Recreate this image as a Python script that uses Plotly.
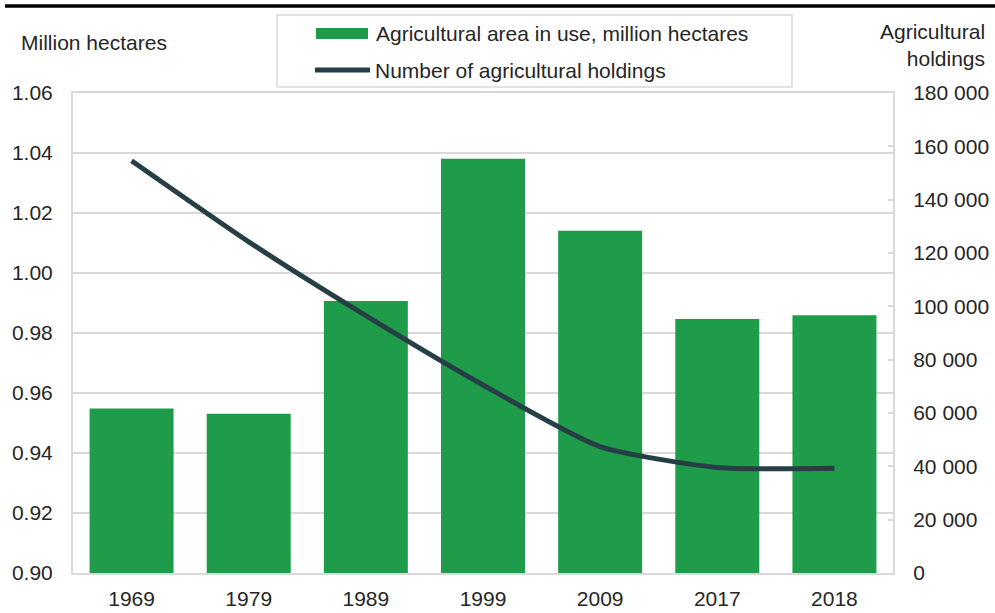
import plotly.graph_objects as go

years = ["1969", "1979", "1989", "1999", "2009", "2017", "2018"]
area_mha = [0.9548, 0.9531, 0.9907, 1.0381, 1.0141, 0.9847, 0.9859]
holdings = [154600, 124200, 96500, 70500, 47400, 39600, 39250]

AREA_NAME = "Agricultural area in use, million hectares"
HOLD_NAME = "Number of agricultural holdings"

GREEN = "#1e9c4a"
LINE = "#263f46"
GRID = "#d9d9d9"
TXT = "#262626"
FONT = "Liberation Sans, Arial, sans-serif"

# plot area in pixels: left 73, right 893, top 93, bottom 573
W, H = 995, 613
L, R, T, B = 73, 893, 93, 573


def px_x(x):
    return (x - L) / (R - L)


def px_y(y):
    return (B - y) / (B - T)


fig = go.Figure()
fig.add_trace(go.Bar(
    x=years, y=area_mha, name=AREA_NAME,
    marker=dict(color=GREEN, line=dict(width=0)), showlegend=False,
))
fig.add_trace(go.Scatter(
    x=years, y=holdings, name=HOLD_NAME, yaxis="y2",
    mode="lines", line=dict(color=LINE, width=5, shape="spline", smoothing=0.6),
    showlegend=False,
))

# legend box drawn by hand (wide swatches like the original)
shapes = [
    dict(type="line", xref="paper", yref="paper",
         x0=px_x(5), x1=px_x(995), y0=px_y(6), y1=px_y(6),
         line=dict(color="black", width=3.5)),
    dict(type="rect", xref="paper", yref="paper",
         x0=px_x(277), x1=px_x(792), y0=px_y(15), y1=px_y(87),
         line=dict(color=GRID, width=1.5)),
    dict(type="rect", xref="paper", yref="paper",
         x0=px_x(316), x1=px_x(368), y0=px_y(28), y1=px_y(39),
         fillcolor=GREEN, line=dict(width=0)),
    dict(type="line", xref="paper", yref="paper",
         x0=px_x(315), x1=px_x(370), y0=px_y(70), y1=px_y(70),
         line=dict(color=LINE, width=5)),
]

annotations = [
    dict(text=AREA_NAME, x=px_x(374), y=px_y(33)),
    dict(text=HOLD_NAME, x=px_x(373), y=px_y(70)),
    dict(text="Million hectares", x=px_x(19), y=px_y(42)),
    dict(text="Agricultural<br>holdings", x=px_x(987), y=px_y(45),
         xanchor="right", align="right"),
]
for a in annotations:
    a.setdefault("xanchor", "left")
    a.update(xref="paper", yref="paper", yanchor="middle", showarrow=False)

fig.update_layout(
    width=W, height=H,
    margin=dict(l=L, r=W - R, t=T, b=H - B),
    paper_bgcolor="white", plot_bgcolor="white",
    font=dict(family=FONT, size=21, color=TXT),
    separators=". ",
    bargap=0.283,
    xaxis=dict(type="category", showline=True, linecolor=GRID, linewidth=2,
               mirror=True, ticks="", showgrid=False, ticklabelstandoff=6,
               automargin=False),
    yaxis=dict(range=[0.9, 1.06], dtick=0.02, tickformat=".2f",
               showgrid=True, gridcolor=GRID, gridwidth=2,
               showline=True, linecolor=GRID, linewidth=2,
               zeroline=False, ticks="", ticklabelstandoff=14,
               automargin=False),
    yaxis2=dict(overlaying="y", side="right", range=[0, 180000], dtick=20000,
                tickformat=",d", showgrid=False, zeroline=False,
                showline=True, linecolor=GRID, linewidth=2,
                ticks="inside", ticklen=5, tickcolor=GRID, tickwidth=2,
                ticklabelstandoff=14, automargin=False),
    shapes=shapes,
    annotations=annotations,
)

# page margin would push the figure 8px down/right
fig.write_html("out.html", config={"displayModeBar": False},
               post_script="document.body.style.margin='0';")
